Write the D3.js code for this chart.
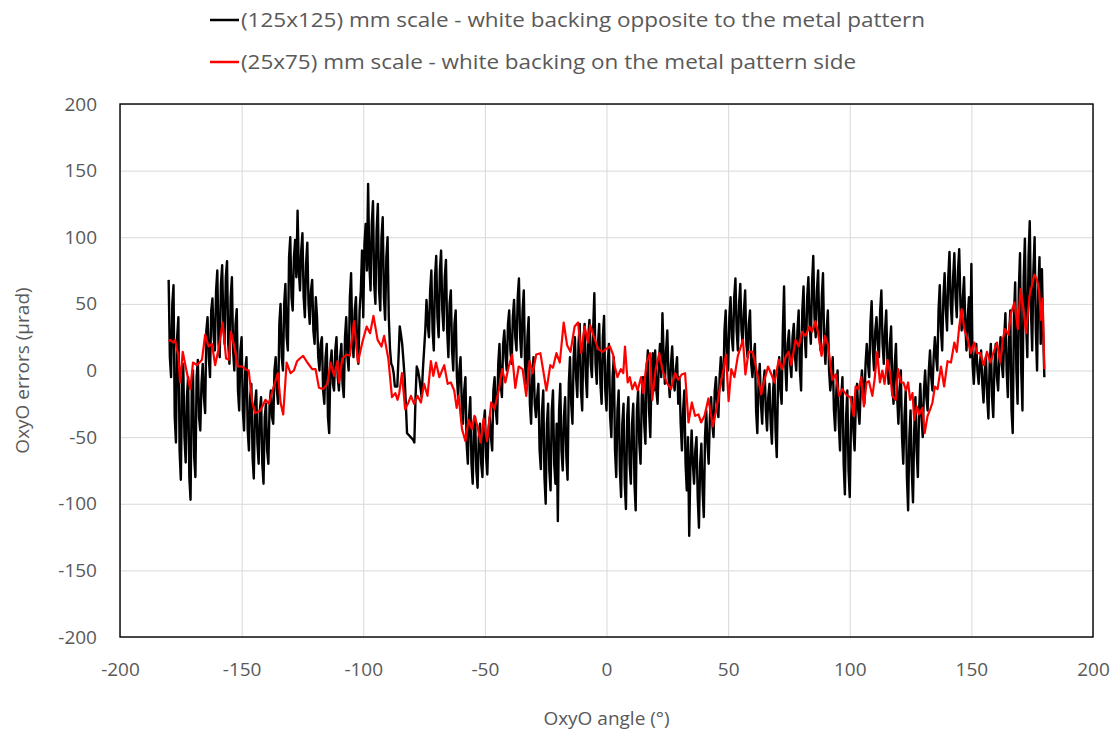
<!DOCTYPE html>
<html>
<head>
<meta charset="utf-8">
<script src="https://cdn.jsdelivr.net/npm/d3@7"></script>
<style>
  body { margin: 0; background: #fff; }
  svg { display: block; font-family: 'Open Sans', sans-serif; }
</style>
</head>
<body>
<div id="chart-container"></div>
<script>
// GLOBALS AND CONSTANTS
const width = 1118;
const height = 735;
const margin = { top: 104, right: 25, bottom: 98, left: 120 };

// DATA
const legendLabels = [
  '(125x125) mm scale - white backing opposite to the metal pattern',
  '(25x75) mm scale - white backing on the metal pattern side'
];
const xTicks = [-200, -150, -100, -50, 0, 50, 100, 150, 200];
const yTicks = [-200, -150, -100, -50, 0, 50, 100, 150, 200];

// black series, readings on whole degrees from -180 to 180
const blackAngles = d3.range(-180, 181);
const blackValues = [
  68, -5, 64, -54, 40, -82, 5, -69, -5, -97,          // -180
  0, -80, 8, -45, 5, -32, 40, -5, 54, 15,             // -170
  75, 10, 79, 20, 82, 5, 70, 0, 46, -30,              // -160
  25, -45, 10, -60, -10, -81, -15, -70, -20, -85,     // -150
  -25, -70, -15, -40, 10, -25, 50, 0, 65, 15,         // -140
  100, 45, 98, 120, 60, 103, 40, 96, 35, 68,          // -130
  20, 40, 0, 25, -25, 20, -47, 15, -15, 25,           // -120
  -15, 20, -20, 40, 0, 73, 10, 55, 5, 60,             // -110
  40, 110, 140, 60, 127, 50, 125, 45, 115, 38,        // -100
  100, 16, 3, -12, -12, 33, 20, -5, -47, -49,         // -90
  -51, -54, 3, -5, -20, 15, 53, 25, 75, 15,           // -80
  86, 25, 90, 30, 83, 10, 60, 0, 45, -20,             // -70
  10, -40, -5, -70, -20, -85, -35, -88, -40, -80,     // -60
  -30, -78, -35, -60, -5, -40, 20, -20, 30, 0,        // -50
  45, 5, 53, 15, 69, 10, 60, -10, 40, -40,            // -40
  10, -35, -10, -74, -15, -100, -25, -90, -15, -85,   // -30
  -113, -10, -75, -20, -82, 10, -40, 25, -20, 35,     // -20
  -30, 35, -20, 38, -5, 58, -10, 35, -25, 41,         // -10
  -30, 20, -50, 10, -80, -15, -95, -25, -104, -20,    // 0
  -85, -25, -105, -15, -70, -5, -55, 15, -50, 13,     // 10
  15, -25, 20, 43, -10, 30, -20, 18, -15, 10,         // 20
  -5, -60, -15, -90, -124, -45, -85, -50, -118, -55,  // 30
  -110, -30, -70, -20, -50, -5, -35, 10, -15, 45,     // 40
  0, 55, 15, 69, 15, 65, 20, 60, 10, 45,              // 50
  -5, 20, -47, 5, -40, 0, -45, -10, -55, 0,           // 60
  -65, 10, -25, 63, -15, 30, -5, 35, 0, 45,           // 70
  -15, 63, 10, 70, 20, 86, 25, 75, 15, 73,            // 80
  5, 45, -15, 10, -45, 0, -60, -5, -93, -15,          // 90
  -95, -20, -60, -10, -40, 0, -25, 20, -5, 52,        // 100
  0, 40, 10, 60, 5, 45, -10, 33, -25, 20,             // 110
  -40, 0, -70, -15, -105, -30, -99, -20, -80, -10,    // 120
  -50, 0, -30, 15, -15, 25, 0, 64, 15, 73,            // 130
  30, 89, 35, 88, 40, 91, 30, 70, 15, 55,             // 140
  80, -10, 20, -10, 15, -24, 10, -36, 20, -35,        // 150
  20, -15, 25, -5, 43, -20, 45, -47, 66, -25,         // 160
  88, -30, 99, 10, 112, 15, 100, 0, 85, 76,           // 170
  -5                                                  // 180
];

// black series, readings on half degrees from -179.5 to 179.5
const blackHalfAngles = d3.range(-179.5, 180, 1);
const blackHalfValues = [
  10, 50, -35, 25, -60, -10, -50, -20, -80, -15,      // -179.5
  -65, -5, -35, -10, -20, 30, 10, 45, 25, 60,         // -169.5
  20, 65, 35, 70, 20, 55, 15, 35, -15, 15,            // -159.5
  -30, 0, -45, -20, -65, -25, -55, -30, -70, -35,     // -149.5
  -60, -25, -35, 0, -15, 35, 10, 50, 25, 85,          // -139.5
  55, 85, 70, 75, 90, 55, 80, 50, 60, 30,             // -129.5
  55, 10, 20, -15, 10, -35, 5, -10, 15, -5,           // -119.5
  10, -10, 25, 10, 55, 25, 45, 15, 45, 90,            // -109.5
  95, 75, 80, 110, 65, 105, 60, 100, 55, 85,          // -99.5
  40, 5, -2, -12, 10, 27, 8, -25, -48, -50,           // -89.5
  -52, -20, 0, -12, 0, 30, 35, 60, 30, 70,            // -79.5
  40, 75, 45, 70, 30, 50, 15, 35, -5, 0,              // -69.5
  -25, -15, -55, -35, -70, -45, -75, -50, -70, -40,   // -59.5
  -65, -45, -50, -15, -30, 5, -10, 20, 10, 35,        // -49.5
  15, 40, 25, 55, 25, 45, 5, 25, -25, -5,             // -39.5
  -25, -20, -60, -30, -80, -40, -75, -30, -70, -40,   // -29.5
  -30, -60, -35, -65, -10, -25, 10, -5, 20, -15,      // -19.5
  20, -5, 25, 5, 30, 5, 20, -10, 25, -15,             // -9.5
  5, -35, -5, -60, -30, -75, -40, -85, -35, -70,      // 0.5
  -40, -85, -30, -55, -20, -40, 0, -30, -5, -15,      // 10.5
  -15, 5, -5, 10, 15, -5, 5, -5, 0, -25,              // 20.5
  -40, -30, -70, -50, -70, -70, -60, -95, -70, -90,   // 30.5
  -50, -55, -35, -40, -15, -25, -5, -5, 30, 10,       // 40.5
  40, 25, 55, 30, 50, 30, 45, 20, 35, 5,              // 50.5
  10, -30, -10, -25, -10, -30, -20, -40, -15, -45,    // 60.5
  -10, -15, 30, 5, 20, 5, 25, 10, 30, 0,              // 70.5
  45, 25, 55, 35, 65, 40, 60, 30, 55, 20,             // 80.5
  30, 0, -5, -30, -15, -40, -20, -70, -35, -75,       // 90.5
  -40, -45, -25, -30, -15, -15, 5, 5, 35, 15,         // 100.5
  30, 20, 45, 20, 30, 5, 20, -10, 5, -20,             // 110.5
  -15, -50, -35, -80, -50, -75, -45, -60, -30, -35,   // 120.5
  -15, -20, 0, -5, 10, 10, 45, 30, 55, 45,            // 130.5
  70, 50, 70, 55, 75, 50, 55, 35, 40, 10,             // 140.5
  5, 10, 0, 5, -10, 0, -20, 5, -20, 5,                // 150.5
  -5, 10, 5, 25, 0, 25, -30, 40, 0, 60,               // 160.5
  0, 70, 35, 85, 45, 75, 30, 60, 20, 30               // 170.5
];

// red series, read at uneven angles
const redAngles = [
  -180, -179.4, -178, -177.4, -176, -175.3, -174.2, -172.8, -171.1, -170,
  -168.4, -166.3, -165, -163.6, -162.2, -160.9, -159.5, -157.8, -156.4, -155.3,
  -154.4, -153, -151.6, -149.8, -148.5, -147.1, -145.7, -144.4, -142.3, -140.2,
  -138.8, -136.8, -135.1, -134, -132.9, -131.5, -129.9, -128.5, -127.2, -126.1,
  -124.7, -123, -121, -119.6, -118.2, -116.5, -114.8, -113.4, -112, -110.6,
  -110, -108.6, -106.8, -105.5, -103.8, -102.2, -100.4, -98.6, -97.2, -95.8,
  -94.1, -92.5, -91.4, -89.7, -88.2, -86.8, -85.9, -85.2, -84.1, -82.8,
  -81.4, -80.4, -79.1, -77.7, -76.3, -75, -73.6, -72.2, -71.2, -70.1,
  -68.7, -66.7, -65.3, -64, -62.6, -61.6, -60.8, -59.4, -58, -56.7,
  -55.3, -54.3, -53, -51.8, -50.5, -49.1, -47.4, -46.1, -44.3, -42.9,
  -41.6, -40.2, -38.8, -37.5, -36.1, -34.5, -33, -31.6, -30.3, -28.9,
  -27.2, -26.1, -24.7, -23.1, -22, -20.6, -19.2, -17.6, -16.2, -14.8,
  -13.1, -11.7, -10.4, -9, -7.6, -6.7, -5.3, -3.4, -1.6, -0.3,
  1.4, 2.7, 3.4, 4.5, 5.9, 6.9, 7.6, 8.7, 9.6, 10.6,
  11.7, 12.8, 14.2, 15.1, 16.5, 17.9, 18.8, 20.2, 21.7, 22.9,
  24.7, 26.5, 28.2, 29.5, 30.9, 32.3, 33.7, 35.1, 36.4, 37.8,
  38.9, 40.3, 41.9, 43.7, 45.4, 46.7, 48.1, 49.1, 50.2, 51.3,
  52.6, 54, 56.1, 57.1, 58.4, 60.1, 61.4, 63.6, 65, 66.4,
  67.8, 69.1, 70.8, 72.2, 73.8, 74.9, 76, 77.7, 79, 80.4,
  81.8, 83.4, 84.5, 85.9, 87, 88.4, 89.8, 91.1, 92.8, 94.2,
  95.6, 96.9, 99, 100.3, 101.6, 102.4, 103.7, 104.7, 105.8, 106.9,
  107.9, 109.3, 110.2, 111.3, 112.4, 113.4, 114.3, 115.5, 116.6, 117.5,
  118.9, 119.9, 121, 122.1, 123.1, 124, 124.8, 125.8, 126.5, 127.6,
  128.5, 129.9, 130.8, 132, 133.1, 134, 135, 136.1, 137.5, 138.8,
  140.2, 141.6, 143, 144, 145, 146, 147.1, 148.5, 149.8, 151.2,
  152.3, 153.7, 155.1, 156.4, 157.8, 159.2, 160.5, 161.9, 162.9, 163.8,
  165.2, 166.3, 167.7, 169.1, 170.2, 171.1, 172.5, 173.9, 175.9, 177,
  177.8, 178.6, 179.3, 180
];
const redValues = [
  22, 23, 21, 23, 11, -9, 14, 1, -14, 6,
  4, 8, 27, 18, 20, 4, 16, 36, 9, 8,
  29, 18, 3, 3, 1, 0, -23, -32, -30, -22,
  -25, -12, -2, -24, -33, 6, -2, 0, 7, 9,
  11, 6, 1, 1, -13, -14, -10, 6, -4, 7,
  -9, 9, 12, 11, 37, 6, 21, 33, 28, 41,
  23, 18, 26, 9, -20, -17, -22, -17, -2, -29,
  -24, -19, -25, -19, -24, -10, -19, 7, -4, 6,
  -5, 4, -10, -9, -15, -28, -19, -44, -53, -37,
  -44, -34, -42, -54, -36, -53, -24, -29, -15, 1,
  -9, 3, 12, -13, 3, 1, -19, 7, -2, 12,
  13, 1, -15, 4, 2, 13, 6, 36, 19, 14,
  33, 36, 13, 33, 21, 34, 26, 16, 14, 16,
  18, 12, 3, -5, 1, -2, 18, -9, -5, -14,
  -9, -15, -5, -17, 6, 13, -22, 1, 13, 1,
  -9, -14, -2, -7, -3, -2, -39, -24, -34, -33,
  -39, -34, -21, -42, -27, -12, 1, 12, -23, 1,
  -5, 11, 23, -3, 14, 14, 3, -18, -7, 3,
  -3, -9, 8, 1, 11, 14, 4, 23, 18, 29,
  26, 33, 29, 37, 28, 11, 26, 19, -7, -3,
  -19, -14, -19, -20, -34, -12, -14, -5, -27, -9,
  -8, -19, -7, 14, -9, 0, -10, 8, -2, -19,
  -22, 1, -9, -9, -15, -9, -22, -17, -37, -27,
  -33, -28, -47, -34, -29, -24, -12, -14, 3, -12,
  7, 6, 21, 14, 33, 46, 31, 23, 13, 21,
  13, 13, 4, 14, 6, 14, 21, 6, 23, 31,
  27, 43, 51, 31, 61, 51, 28, 56, 72, 68,
  61, 38, 54, 1
];

// MERGE THE BLACK READINGS IN ANGLE ORDER
const blackData = d3.zip(blackAngles, blackValues)
  .concat(d3.zip(blackHalfAngles, blackHalfValues))
  .sort((a, b) => a[0] - b[0]);
const redData = d3.zip(redAngles, redValues);

// SCALES
const xScale = d3.scaleLinear()
  .domain([-200, 200])
  .range([margin.left, width - margin.right]);

const yScale = d3.scaleLinear()
  .domain([-200, 200])
  .range([height - margin.bottom, margin.top]);

// CREATE SVG
const svg = d3.select('#chart-container')
  .append('svg')
  .attr('width', width)
  .attr('height', height);

svg.append('rect')
  .attr('width', width)
  .attr('height', height)
  .attr('fill', '#fff');

// GRIDLINES
svg.append('g')
  .attr('class', 'grid')
  .attr('transform', `translate(0,${height - margin.bottom})`)
  .call(d3.axisBottom(xScale)
    .tickValues(xTicks)
    .tickSize(-(height - margin.top - margin.bottom))
    .tickFormat(''))
  .call(g => g.select('.domain').remove())
  .selectAll('line')
  .attr('stroke', '#d9d9d9');

svg.append('g')
  .attr('class', 'grid')
  .attr('transform', `translate(${margin.left},0)`)
  .call(d3.axisLeft(yScale)
    .tickValues(yTicks)
    .tickSize(-(width - margin.left - margin.right))
    .tickFormat(''))
  .call(g => g.select('.domain').remove())
  .selectAll('line')
  .attr('stroke', '#d9d9d9');

// LINES
const line = d3.line()
  .x(d => xScale(d[0]))
  .y(d => yScale(d[1]));

svg.append('path')
  .datum(blackData)
  .attr('fill', 'none')
  .attr('stroke', '#000')
  .attr('stroke-width', 2.4)
  .attr('stroke-linejoin', 'round')
  .attr('d', line);

svg.append('path')
  .datum(redData)
  .attr('fill', 'none')
  .attr('stroke', '#ff0000')
  .attr('stroke-width', 2.2)
  .attr('stroke-linejoin', 'round')
  .attr('d', line);

// PLOT BORDER
svg.append('rect')
  .attr('x', margin.left)
  .attr('y', margin.top)
  .attr('width', width - margin.left - margin.right)
  .attr('height', height - margin.top - margin.bottom)
  .attr('fill', 'none')
  .attr('stroke', '#000')
  .attr('stroke-width', 1.4);

// AXES LABELS (PLAIN HYPHEN FOR NEGATIVES)
const xAxis = svg.append('g')
  .attr('transform', `translate(0,${height - margin.bottom})`)
  .call(d3.axisBottom(xScale).tickValues(xTicks).tickSize(0).tickPadding(26)
    .tickFormat(d => String(d)));

const yAxis = svg.append('g')
  .attr('transform', `translate(${margin.left},0)`)
  .call(d3.axisLeft(yScale).tickValues(yTicks).tickSize(0).tickPadding(23)
    .tickFormat(d => String(d)));

[xAxis, yAxis].forEach(g => {
  g.select('.domain').remove();
  g.selectAll('text')
    .attr('fill', '#595959')
    .style('font-size', '19px')
    .style('font-family', "'Open Sans', sans-serif");
});

svg.append('text')
  .attr('x', (margin.left + width - margin.right) / 2)
  .attr('y', 725)
  .attr('text-anchor', 'middle')
  .attr('fill', '#595959')
  .style('font-size', '19px')
  .text('OxyO angle (°)');

svg.append('text')
  .attr('transform', `translate(29,${(margin.top + height - margin.bottom) / 2}) rotate(-90)`)
  .attr('text-anchor', 'middle')
  .attr('fill', '#595959')
  .style('font-size', '19px')
  .text('OxyO errors (µrad)');

// LEGEND
const legendColors = ['#000', '#ff0000'];
const legendWidths = [684, 615];
const legend = svg.append('g');

legendLabels.forEach((label, i) => {
  const ly = 20 + i * 42;
  legend.append('line')
    .attr('x1', 210)
    .attr('x2', 239)
    .attr('y1', ly)
    .attr('y2', ly)
    .attr('stroke', legendColors[i])
    .attr('stroke-width', 2.5);
  legend.append('text')
    .attr('x', 241)
    .attr('y', ly + 7)
    .attr('fill', '#595959')
    .attr('textLength', legendWidths[i])
    .attr('lengthAdjust', 'spacingAndGlyphs')
    .style('font-size', '20px')
    .text(label);
});
</script>
</body>
</html>
